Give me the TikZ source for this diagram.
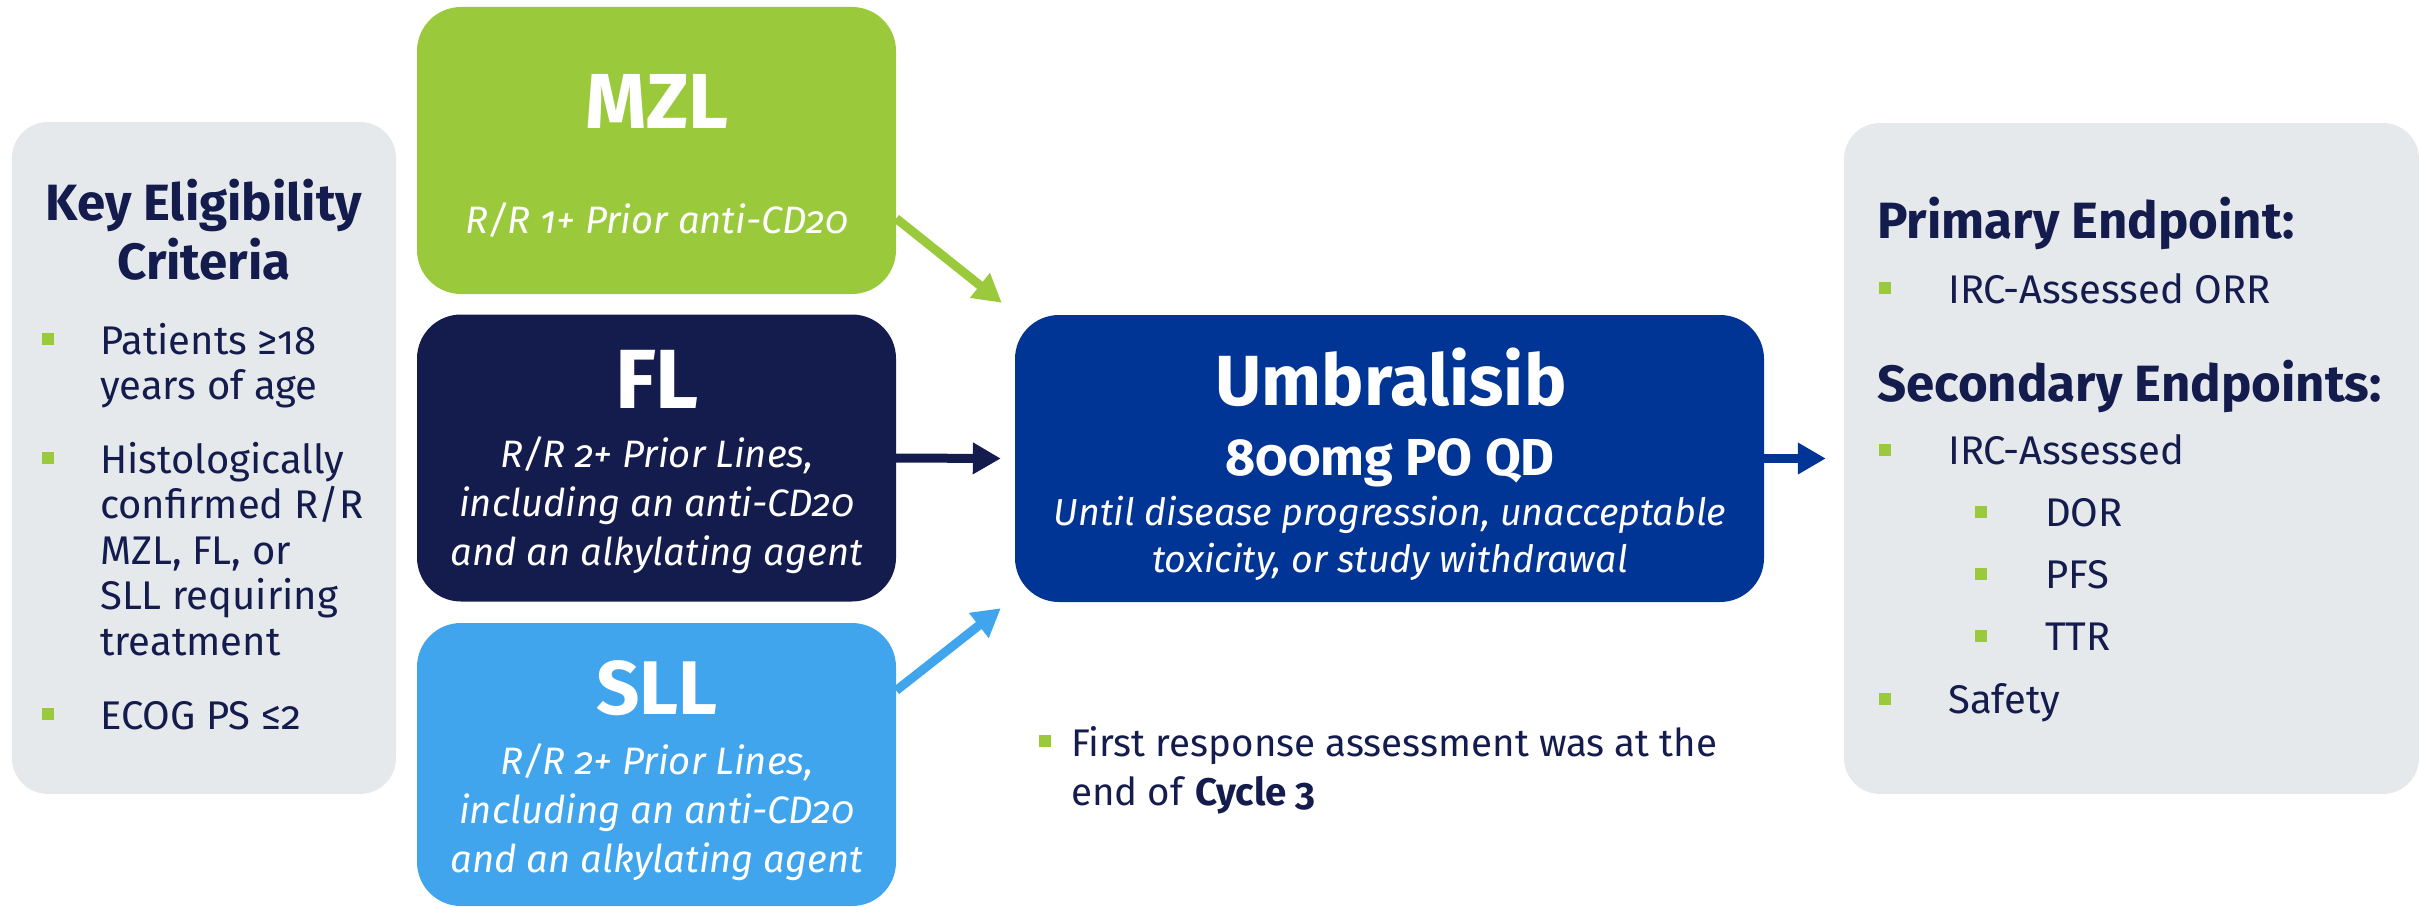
\documentclass[tikz,border=0pt]{standalone}
\usepackage{fontspec}
\setmainfont[Numbers=OldStyle]{Fira Sans}
\usetikzlibrary{arrows.meta,calc}
\definecolor{cgreen}{HTML}{9ACA3C}
\definecolor{cnavy}{HTML}{141B4D}
\definecolor{cblue}{HTML}{41A5EE}
\definecolor{cdeep}{HTML}{003595}
\definecolor{cgray}{HTML}{E6E9EC}
\begin{document}
\begin{tikzpicture}[x=1pt,y=-1pt,
  panel/.style={fill=cgray, rounded corners=36pt, inner sep=0pt},
  armbox/.style={rounded corners=44pt, inner sep=0pt, minimum width=479pt, minimum height=287pt},
  bul/.style={fill=cgreen, minimum size=12pt, inner sep=0pt},
  txt/.style={text=cnavy, inner sep=0pt, anchor=base west, font=\fontsize{40}{48}\selectfont},
  ttl/.style={text=cnavy, inner sep=0pt, font=\bfseries\fontsize{51}{60}\selectfont},
  wtitle/.style={text=white, inner sep=0pt, anchor=base, font=\bfseries\fontsize{78}{86}\selectfont},
  wital/.style={text=white, inner sep=0pt, anchor=base, font=\itshape\fontsize{38.2}{46}\selectfont},
  arr/.style={line width=9pt, -{Triangle[length=28pt,width=30pt]}},
]
\useasboundingbox (0,0) rectangle (2419,907);

% panels
\node[panel, minimum width=384pt, minimum height=672pt] (left) at (204,458) {};
\node[panel, minimum width=575pt, minimum height=671pt] (right) at (2131.5,458.5) {};

% arm boxes
\node[armbox, fill=cgreen] (mzl) at (656.5,150.5) {};
\node[armbox, fill=cnavy] (fl) at (656.5,458) {};
\node[armbox, fill=cblue, minimum height=283pt] (sll) at (656.5,764.5) {};
\node[armbox, fill=cdeep, minimum width=749pt] (umb) at (1389.5,458.5) {};

% left panel text
\node[ttl, anchor=base] (kt1) at (204,220) {Key Eligibility};
\node[ttl, anchor=base] (kt2) at (204,279) {Criteria};
\node[bul] (lb1) at (48,339) {};
\node[txt] (l1a) at (100,354) {Patients ≥18};
\node[txt] (l1b) at (100,399) {years of age};
\node[bul] (lb2) at (48,458) {};
\node[txt] (l2a) at (100,473) {Histologically};
\node[txt] (l2b) at (100,518) {confirmed R/R};
\node[txt] (l2c) at (100,564) {MZL, FL, or};
\node[txt] (l2d) at (100,609) {SLL requiring};
\node[txt] (l2e) at (100,655) {treatment};
\node[bul] (lb3) at (48,714) {};
\node[txt] (l3a) at (100,729) {ECOG PS ≤2};

% arm box text
\node[wtitle] (mzlt) at (657,128) {MZL};
\node[wital] (mzl1) at (657,233) {R/R 1+ Prior anti-CD20};
\node[wtitle, font=\bfseries\fontsize{84}{90}\selectfont] (flt) at (657,408) {FL};
\node[wital] (fl1) at (657,467) {R/R 2+ Prior Lines,};
\node[wital] (fl2) at (657,516) {including an anti-CD20};
\node[wital] (fl3) at (657,565) {and an alkylating agent};
\node[wtitle, font=\bfseries\fontsize{76}{86}\selectfont] (sllt) at (657,714) {SLL};
\node[wital] (sll1) at (657,774) {R/R 2+ Prior Lines,};
\node[wital] (sll2) at (657,823) {including an anti-CD20};
\node[wital] (sll3) at (657,872) {and an alkylating agent};

% umbralisib text
\node[text=white, inner sep=0pt, anchor=base, font=\bfseries\fontsize{71}{80}\selectfont] (u1) at (1391,405) {Umbralisib};
\node[text=white, inner sep=0pt, anchor=base, font=\bfseries\fontsize{52}{60}\selectfont] (u2) at (1390,475) {800mg PO QD};
\node[wital, font=\itshape\fontsize{37.6}{45}\selectfont] (u3) at (1390,525) {Until disease progression, unacceptable};
\node[wital, font=\itshape\fontsize{37.6}{45}\selectfont] (u4) at (1390,572) {toxicity, or study withdrawal};

% first response note
\node[bul] (nb) at (1044.5,741) {};
\node[txt, font=\fontsize{38.5}{46}\selectfont] (n1) at (1071,756) {First response assessment was at the};
\node[txt, font=\fontsize{38.5}{46}\selectfont] (n2) at (1071,805) {end of \textbf{Cycle 3}};

% right panel text
\node[ttl, anchor=base west] (pt) at (1877,238) {Primary Endpoint:};
\node[bul] (rb1) at (1884.5,288) {};
\node[txt] (r1) at (1948,303) {IRC-Assessed ORR};
\node[ttl, anchor=base west] (st) at (1877,401) {Secondary Endpoints:};
\node[bul] (rb2) at (1884.5,450) {};
\node[txt] (r2) at (1948,464) {IRC-Assessed};
\node[bul] (sb1) at (1980.5,512) {};
\node[txt] (r3) at (2045,526) {DOR};
\node[bul] (sb2) at (1980.5,574) {};
\node[txt] (r4) at (2045,588) {PFS};
\node[bul] (sb3) at (1980.5,636) {};
\node[txt] (r5) at (2045,650) {TTR};
\node[bul] (rb3) at (1884.5,699) {};
\node[txt] (r6) at (1948,713) {Safety};

% arrows
\draw[arr, cgreen] ($(mzl.east)+(0,68)$) -- ($(umb.north west)+(-13,-12)$);
\draw[arr, cnavy] (fl.east) -- ($(umb.west)+(-14,0)$);
\draw[arr, cblue] ($(sll.east)+(0,-74)$) -- ($(umb.south west)+(-14,6)$);
\draw[arr, cdeep] (umb.east) -- ($(right.west)+(-18,0)$);
\end{tikzpicture}
\end{document}
